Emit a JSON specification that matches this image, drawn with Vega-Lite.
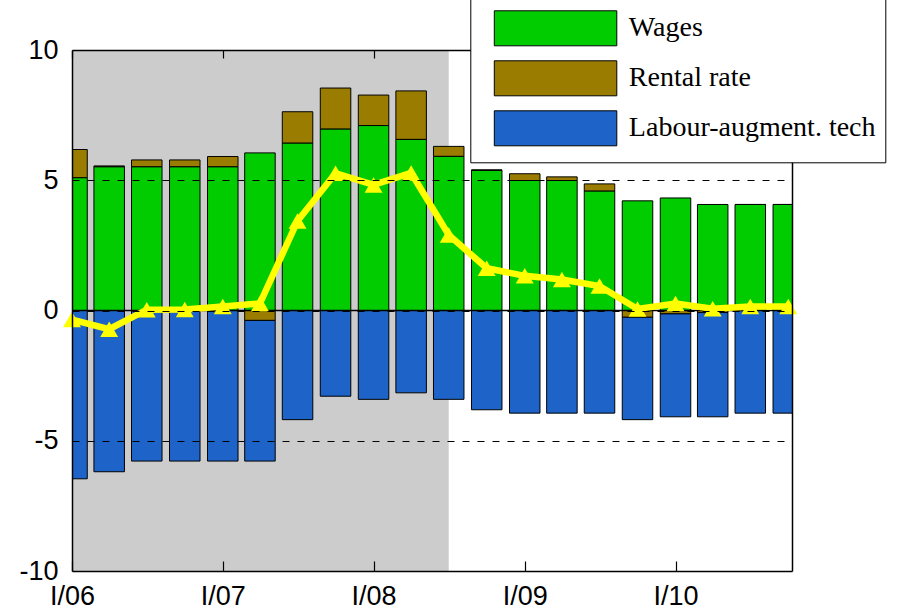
{
  "$schema": "https://vega.github.io/schema/vega-lite/v6.json",
  "width": 720,
  "height": 521,
  "autosize": {"type": "none"},
  "padding": {"left": 72, "top": 50, "right": 109, "bottom": 41},
  "background": "white",
  "config": {
    "view": {"stroke": null},
    "font": "Liberation Sans",
    "axis": {
      "labelFont": "Liberation Sans",
      "labelFontSize": 27,
      "labelColor": "black",
      "domainColor": "black",
      "domainWidth": 1.5,
      "tickColor": "black",
      "tickWidth": 1.2
    }
  },
  "datasets": {
    "parts": [
      {"date": "2006-01-01", "series": "Wages", "value": 5.10},
      {"date": "2006-01-01", "series": "Rental rate", "value": 1.08},
      {"date": "2006-01-01", "series": "Labour-augment. tech", "value": -6.46},
      {"date": "2006-04-01", "series": "Wages", "value": 5.52},
      {"date": "2006-04-01", "series": "Rental rate", "value": 0.03},
      {"date": "2006-04-01", "series": "Labour-augment. tech", "value": -6.19},
      {"date": "2006-07-01", "series": "Wages", "value": 5.52},
      {"date": "2006-07-01", "series": "Rental rate", "value": 0.26},
      {"date": "2006-07-01", "series": "Labour-augment. tech", "value": -5.78},
      {"date": "2006-10-01", "series": "Wages", "value": 5.52},
      {"date": "2006-10-01", "series": "Rental rate", "value": 0.26},
      {"date": "2006-10-01", "series": "Labour-augment. tech", "value": -5.78},
      {"date": "2007-01-01", "series": "Wages", "value": 5.52},
      {"date": "2007-01-01", "series": "Rental rate", "value": 0.39},
      {"date": "2007-01-01", "series": "Labour-augment. tech", "value": -5.78},
      {"date": "2007-04-01", "series": "Wages", "value": 6.05},
      {"date": "2007-04-01", "series": "Rental rate", "value": -0.38},
      {"date": "2007-04-01", "series": "Labour-augment. tech", "value": -5.40},
      {"date": "2007-07-01", "series": "Wages", "value": 6.43},
      {"date": "2007-07-01", "series": "Rental rate", "value": 1.20},
      {"date": "2007-07-01", "series": "Labour-augment. tech", "value": -4.19},
      {"date": "2007-10-01", "series": "Wages", "value": 6.97},
      {"date": "2007-10-01", "series": "Rental rate", "value": 1.57},
      {"date": "2007-10-01", "series": "Labour-augment. tech", "value": -3.29},
      {"date": "2008-01-01", "series": "Wages", "value": 7.10},
      {"date": "2008-01-01", "series": "Rental rate", "value": 1.17},
      {"date": "2008-01-01", "series": "Labour-augment. tech", "value": -3.41},
      {"date": "2008-04-01", "series": "Wages", "value": 6.57},
      {"date": "2008-04-01", "series": "Rental rate", "value": 1.86},
      {"date": "2008-04-01", "series": "Labour-augment. tech", "value": -3.16},
      {"date": "2008-07-01", "series": "Wages", "value": 5.92},
      {"date": "2008-07-01", "series": "Rental rate", "value": 0.38},
      {"date": "2008-07-01", "series": "Labour-augment. tech", "value": -3.41},
      {"date": "2008-10-01", "series": "Wages", "value": 5.38},
      {"date": "2008-10-01", "series": "Rental rate", "value": 0.02},
      {"date": "2008-10-01", "series": "Labour-augment. tech", "value": -3.81},
      {"date": "2009-01-01", "series": "Wages", "value": 4.99},
      {"date": "2009-01-01", "series": "Rental rate", "value": 0.26},
      {"date": "2009-01-01", "series": "Labour-augment. tech", "value": -3.94},
      {"date": "2009-04-01", "series": "Wages", "value": 4.99},
      {"date": "2009-04-01", "series": "Rental rate", "value": 0.14},
      {"date": "2009-04-01", "series": "Labour-augment. tech", "value": -3.94},
      {"date": "2009-07-01", "series": "Wages", "value": 4.59},
      {"date": "2009-07-01", "series": "Rental rate", "value": 0.27},
      {"date": "2009-07-01", "series": "Labour-augment. tech", "value": -3.94},
      {"date": "2009-10-01", "series": "Wages", "value": 4.21},
      {"date": "2009-10-01", "series": "Rental rate", "value": -0.26},
      {"date": "2009-10-01", "series": "Labour-augment. tech", "value": -3.93},
      {"date": "2010-01-01", "series": "Wages", "value": 4.32},
      {"date": "2010-01-01", "series": "Rental rate", "value": -0.13},
      {"date": "2010-01-01", "series": "Labour-augment. tech", "value": -3.95},
      {"date": "2010-04-01", "series": "Wages", "value": 4.07},
      {"date": "2010-04-01", "series": "Rental rate", "value": -0.08},
      {"date": "2010-04-01", "series": "Labour-augment. tech", "value": -4.00},
      {"date": "2010-07-01", "series": "Wages", "value": 4.07},
      {"date": "2010-07-01", "series": "Rental rate", "value": 0.00},
      {"date": "2010-07-01", "series": "Labour-augment. tech", "value": -3.94},
      {"date": "2010-10-01", "series": "Wages", "value": 4.07},
      {"date": "2010-10-01", "series": "Rental rate", "value": 0.00},
      {"date": "2010-10-01", "series": "Labour-augment. tech", "value": -3.94}
    ],
    "total": [
      {"date": "2006-01-01", "total": -0.35},
      {"date": "2006-04-01", "total": -0.72},
      {"date": "2006-07-01", "total": 0.03},
      {"date": "2006-10-01", "total": 0.04},
      {"date": "2007-01-01", "total": 0.15},
      {"date": "2007-04-01", "total": 0.27},
      {"date": "2007-07-01", "total": 3.44},
      {"date": "2007-10-01", "total": 5.27},
      {"date": "2008-01-01", "total": 4.82},
      {"date": "2008-04-01", "total": 5.28},
      {"date": "2008-07-01", "total": 2.90},
      {"date": "2008-10-01", "total": 1.62},
      {"date": "2009-01-01", "total": 1.33},
      {"date": "2009-04-01", "total": 1.19},
      {"date": "2009-07-01", "total": 0.94},
      {"date": "2009-10-01", "total": 0.06},
      {"date": "2010-01-01", "total": 0.27},
      {"date": "2010-04-01", "total": 0.07},
      {"date": "2010-07-01", "total": 0.15},
      {"date": "2010-10-01", "total": 0.15}
    ],
    "shade": [
      {"start": "2006-01-01", "end": "2008-07-01"}
    ],
    "zero": [
      {"level": 0}
    ]
  },
  "resolve": {"axis": {"x": "independent", "y": "independent"}},
  "layer": [
    {
      "data": {"name": "shade"},
      "mark": {"type": "rect", "color": "#CCCCCC", "clip": true},
      "encoding": {
        "x": {
          "field": "start", "type": "temporal",
          "scale": {"type": "utc", "padding": 0, "domain": [{"year": 2006, "month": 1, "date": 1, "utc": true}, {"year": 2010, "month": 10, "date": 10, "utc": true}]},
          "axis": null
        },
        "x2": {"field": "end"}
      }
    },
    {
      "data": {"name": "parts"},
      "mark": {"type": "bar", "width": 30.5, "stroke": "black", "strokeWidth": 1, "clip": true},
      "encoding": {
        "x": {
          "field": "date", "type": "temporal",
          "axis": {
            "orient": "bottom",
            "values": [
              {"year": 2006, "month": 1, "date": 1, "utc": true},
              {"year": 2007, "month": 1, "date": 1, "utc": true},
              {"year": 2008, "month": 1, "date": 1, "utc": true},
              {"year": 2009, "month": 1, "date": 1, "utc": true},
              {"year": 2010, "month": 1, "date": 1, "utc": true}
            ],
            "labelExpr": "'I/' + utcFormat(datum.value, '%y')",
            "tickSize": -10,
            "labelPadding": 22,
            "labelFlush": false,
            "labelOverlap": false,
            "labelBound": false,
            "grid": false,
            "title": null,
            "zindex": 1
          }
        },
        "y": {
          "field": "value", "type": "quantitative", "stack": "zero",
          "scale": {"domain": [-10, 10], "nice": false, "zero": false, "padding": 0},
          "axis": {
            "orient": "left",
            "values": [-10, -5, 0, 5, 10],
            "labelExpr": "datum.value < 0 ? '-' + abs(datum.value) : '' + datum.value",
            "grid": false,
            "ticks": false,
            "labelPadding": 14,
            "title": null,
            "zindex": 1
          }
        },
        "color": {
          "field": "series", "type": "nominal",
          "scale": {
            "domain": ["Wages", "Rental rate", "Labour-augment. tech"],
            "range": ["#00CC00", "#9A7D00", "#1E64C8"]
          },
          "legend": {
            "orient": "none",
            "legendX": 398.3,
            "legendY": -55.7,
            "title": null,
            "padding": 9,
            "strokeColor": "black",
            "fillColor": "white",
            "symbolType": "M-3.5,-1L3.5,-1L3.5,1L-3.5,1Z",
            "symbolSize": 1225,
            "symbolStrokeColor": "black",
            "symbolStrokeWidth": 1,
            "symbolOpacity": 1,
            "symbolOffset": 58.25,
            "labelOffset": 55.3,
            "labelFont": "Liberation Serif",
            "labelFontSize": 28,
            "labelColor": "black",
            "labelLimit": 400,
            "clipHeight": 50,
            "rowPadding": 0,
            "zindex": 2
          }
        },
        "order": {"field": "series", "sort": "descending"}
      }
    },
    {
      "data": {"name": "zero"},
      "mark": {"type": "rule", "color": "black", "strokeWidth": 1.5},
      "encoding": {
        "y": {
          "field": "level", "type": "quantitative",
          "axis": {
            "orient": "left",
            "values": [-5, 0, 5],
            "grid": true,
            "gridColor": "black",
            "gridDash": [7, 8],
            "gridWidth": 1,
            "labels": false,
            "ticks": false,
            "domain": false,
            "title": null,
            "zindex": 1
          }
        }
      }
    },
    {
      "data": {"name": "total"},
      "mark": {
        "type": "line", "color": "#FFFF00", "strokeWidth": 6.5,
        "point": {"shape": "triangle-up", "size": 320, "filled": true, "color": "#FFFF00", "opacity": 1}
      },
      "encoding": {
        "x": {
          "field": "date", "type": "temporal",
          "axis": {
            "orient": "top",
            "values": [
              {"year": 2006, "month": 1, "date": 1, "utc": true},
              {"year": 2007, "month": 1, "date": 1, "utc": true},
              {"year": 2008, "month": 1, "date": 1, "utc": true},
              {"year": 2009, "month": 1, "date": 1, "utc": true},
              {"year": 2010, "month": 1, "date": 1, "utc": true}
            ],
            "labels": false,
            "tickSize": -8,
            "grid": false,
            "title": null,
            "zindex": 1
          }
        },
        "y": {
          "field": "total", "type": "quantitative",
          "axis": {
            "orient": "right",
            "labels": false,
            "ticks": false,
            "grid": false,
            "title": null,
            "zindex": 1
          }
        }
      }
    }
  ]
}
